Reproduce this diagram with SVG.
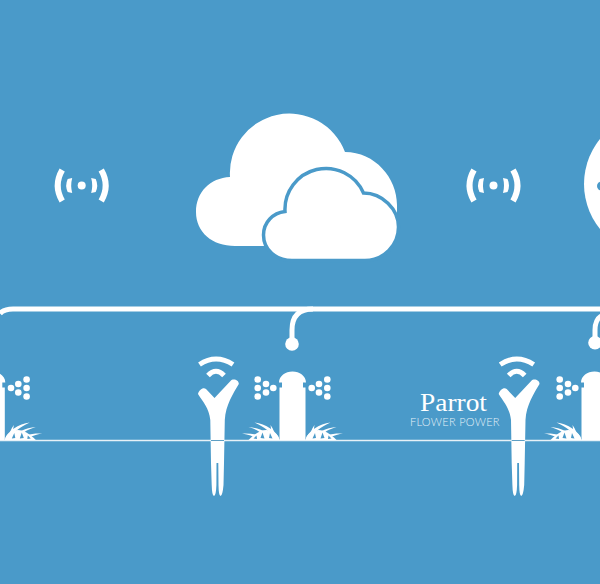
<svg xmlns="http://www.w3.org/2000/svg" xmlns:xlink="http://www.w3.org/1999/xlink" width="600" height="584" viewBox="0 0 600 584">
<style>
.w{fill:#fff}
.bg{fill:#4a9ac9}
.bus{fill:none;stroke:#fff;stroke-width:5}
.arc{fill:none;stroke:#fff;stroke-linecap:butt}
</style>
<defs>
<g id="blades">
<path d="M13 0C15 -9 27 -16 38 -17.500C28 -13 22 -8 20 -3L22 0Z"/>
<path d="M18 0C23 -8 34 -12 44 -13C34 -10 28 -6 27 0Z"/>
<path d="M24 0C30 -5 40 -7 50.500 -6.500C42 -5 37 -3 35 0Z"/>
<path d="M17 0C17 -6 19 -11 22 -15C21 -10 21 -5 23 0Z"/>
<path d="M13 0C14 -6 19 -9 26 -10C32 -10 38 -6 44 0Z"/>
<path class="bg" d="M20 -1.500L22.500 -7L23.500 -2ZM28 -1.500L30 -7.500L32 -2ZM35.500 -1L36 -4.500L39 -1.500Z"/>
</g>
<g id="sprinkler" class="w">
<path d="M-13 0V-52.500H-10.500V-57.500H-13.500C-13.500 -64 -7 -68.500 0 -68.500C7 -68.500 13.500 -64 13.500 -57.500H10.500V-52.500H13V0Z"/>
<circle cx="19.200" cy="-52" r="3.300"/><circle cx="26.500" cy="-56" r="3.300"/><circle cx="26.500" cy="-47.500" r="3.300"/><circle cx="34.800" cy="-60.500" r="3.300"/><circle cx="34.800" cy="-52" r="3.300"/><circle cx="34.800" cy="-43.500" r="3.300"/>
<circle cx="-19.200" cy="-52" r="3.300"/><circle cx="-26.500" cy="-56" r="3.300"/><circle cx="-26.500" cy="-47.500" r="3.300"/><circle cx="-34.800" cy="-60.500" r="3.300"/><circle cx="-34.800" cy="-52" r="3.300"/><circle cx="-34.800" cy="-43.500" r="3.300"/>
<use xlink:href="#blades" href="#blades"/>
<use xlink:href="#blades" href="#blades" transform="scale(-1 1)"/>
</g>
<g id="sensor">
<path class="arc" stroke-width="5" d="M199.500 364.500Q216 353.500 233 364.500"/>
<path class="arc" stroke-width="5" d="M208 375.500Q216 367 224 375.500"/>
<path class="w" d="M198 394C199 390 203 387 206 389L214.500 398L230.500 381C233 378 239 380 238.800 384C233.500 393 225.500 405 224.800 420L224 463L223.500 485Q222.500 496 220.500 496Q218.700 496 218.500 485L218.300 463H216.500L216.400 485Q216 496 214 496Q212 496 211.700 485L211 463L210.300 420C209 408 203 402 198 394Z"/>
<path fill="none" stroke="#5f9fc4" stroke-width="1" d="M211 440.500H224"/>
</g>
<g id="signal">
<circle cx="0" cy="0" r="4" class="w"/>
<path class="w" d="M-9.500 -7.500L-14 -6.500Q-17 0 -14 6.500L-9.500 7.500Q-11.500 0 -9.500 -7.500Z"/>
<path class="w" d="M9.500 -7.500L14 -6.500Q17 0 14 6.500L9.500 7.500Q11.500 0 9.500 -7.500Z"/>
<path class="arc" stroke-width="6" d="M-19.500 -15.500Q-28.500 0 -19.500 15.500"/>
<path class="arc" stroke-width="6" d="M19.500 -15.500Q28.500 0 19.500 15.500"/>
</g>
</defs>
<rect width="600" height="584" fill="#4a9ac9"/>
<g id="connectors">
<path class="bus" d="M0 313.500Q4 309 13 309H600"/>
<path class="bus" d="M292 340V330Q292 309 313 309"/>
<path class="bus" d="M595 340V330Q595 320 601 316"/>
<circle class="w" cx="292" cy="344" r="6.800"/>
<circle class="w" cx="595" cy="342.700" r="6.800"/>
</g>
<path id="ground" fill="none" stroke="#e6f1f7" stroke-width="1.600" d="M0 440.500H600"/>
<g id="signal-left"><use xlink:href="#signal" href="#signal" x="81.700" y="185.500"/></g>
<g id="signal-right"><use xlink:href="#signal" href="#signal" x="493.500" y="185.500"/></g>
<g id="cloud">
<path class="w" d="M230 177A59.500 59.500 0 0 1 345 152C375 152 397 178 397 205V240L340 246H235C212 246 196 232 196 212C196 192 210 178 230 177Z"/>
<path fill="#fff" stroke="#4a9ac9" stroke-width="3.500" d="M285 211.500A41 41 0 0 1 363.500 193C382 193 398.500 209 398.500 227C398.500 245 384 260.500 365 260.500H292C276 260.500 263.500 250 263.500 235C263.500 222 273 213 285 211.500Z"/>
</g>
<g id="globe">
<circle class="w" cx="655" cy="184" r="71"/>
<circle class="bg" cx="601.500" cy="186" r="4.500"/>
</g>
<g id="sprinkler-1"><use xlink:href="#sprinkler" href="#sprinkler" x="-8.200" y="440"/></g>
<g id="sprinkler-2"><use xlink:href="#sprinkler" href="#sprinkler" x="292.500" y="440"/></g>
<g id="sprinkler-3"><use xlink:href="#sprinkler" href="#sprinkler" x="594.500" y="440"/></g>
<g id="sensor-1"><use xlink:href="#sensor" href="#sensor"/></g>
<g id="sensor-2"><use xlink:href="#sensor" href="#sensor" x="300.700"/></g>
<g id="logo" fill="#fff">
<text x="420" y="410.500" font-family="'Liberation Serif',serif" font-size="25.500" textLength="67" lengthAdjust="spacingAndGlyphs">Parrot</text>
<text x="410" y="426" font-family="Lato,'Open Sans',sans-serif" font-weight="300" font-size="11" textLength="89.500" fill="#e4f0f7">FLOWER POWER</text>
</g>
</svg>
